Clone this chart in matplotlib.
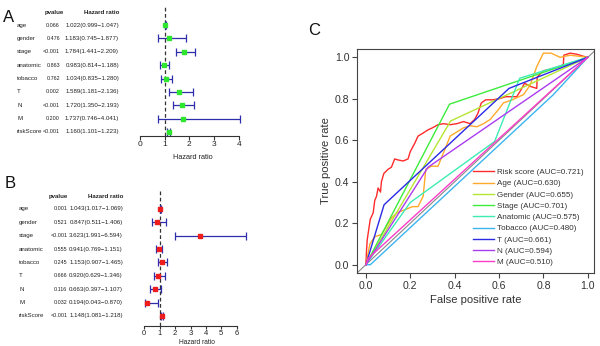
import matplotlib
matplotlib.use("Agg")
import matplotlib.pyplot as plt

plt.rcParams['font.family'] = ['Liberation Sans', 'DejaVu Sans']

# ---------------- data ----------------
variables = ["age", "gender", "stage", "anatomic", "tobacco", "T", "N", "M", "riskScore"]

pA = ["0.066", "0.476", "<0.001", "0.863", "0.762", "0.002", "<0.001", "0.200", "<0.001"]
hrA = [1.022, 1.183, 1.784, 0.983, 1.034, 1.589, 1.720, 1.737, 1.160]
loA = [0.999, 0.745, 1.441, 0.814, 0.835, 1.181, 1.350, 0.746, 1.101]
hiA = [1.047, 1.877, 2.209, 1.188, 1.280, 2.136, 2.193, 4.041, 1.223]

pB = ["0.001", "0.521", "<0.001", "0.555", "0.245", "0.666", "0.116", "0.032", "<0.001"]
hrB = [1.043, 0.847, 3.623, 0.941, 1.153, 0.920, 0.663, 0.194, 1.148]
loB = [1.017, 0.511, 1.991, 0.769, 0.907, 0.629, 0.397, 0.043, 1.081]
hiB = [1.069, 1.406, 6.594, 1.151, 1.465, 1.346, 1.107, 0.870, 1.218]

ticksA = [0, 1, 2, 3, 4]
ticksB = [0, 1, 2, 3, 4, 5, 6]

roc_labels = ["Risk score (AUC=0.721)", "Age (AUC=0.630)", "Gender (AUC=0.655)",
              "Stage (AUC=0.701)", "Anatomic (AUC=0.575)", "Tobacco (AUC=0.480)",
              "T (AUC=0.661)", "N (AUC=0.594)", "M (AUC=0.510)"]
roc_colors = ["#ff2a2a", "#ffaa2a", "#b4e632", "#3cec3c", "#3cecb4",
              "#3cb4f0", "#2a2ae6", "#aa3cf0", "#ff3cc8"]

risk_fpr = [0, 0.003, 0.006, 0.015, 0.02, 0.033, 0.04, 0.048, 0.055, 0.066, 0.07, 0.081,
            0.1, 0.115, 0.13, 0.145, 0.168, 0.19, 0.2, 0.22, 0.235, 0.258, 0.28, 0.30,
            0.325, 0.35, 0.38, 0.41, 0.44, 0.47, 0.49, 0.505, 0.52, 0.54, 0.57, 0.60,
            0.63, 0.68, 0.70, 0.715, 0.74, 0.77, 0.772, 0.80, 0.84, 0.87, 0.89, 0.892,
            0.92, 0.95, 0.98, 1.0]
risk_tpr = [0, 0.07, 0.12, 0.185, 0.22, 0.25, 0.31, 0.33, 0.37, 0.35, 0.40, 0.44,
            0.46, 0.47, 0.51, 0.505, 0.50, 0.51, 0.545, 0.585, 0.62, 0.635, 0.65, 0.66,
            0.675, 0.68, 0.675, 0.68, 0.69, 0.68, 0.70, 0.73, 0.78, 0.795, 0.795, 0.80,
            0.81, 0.81, 0.845, 0.875, 0.86, 0.85, 0.905, 0.935, 0.945, 0.955, 0.965, 1.01,
            1.02, 1.015, 1.005, 1.0]

age_fpr = [0, 0.018, 0.04, 0.07, 0.093, 0.115, 0.14, 0.175, 0.21, 0.235, 0.258, 0.27,
           0.295, 0.325, 0.35, 0.38, 0.41, 0.44, 0.47, 0.50, 0.53, 0.56, 0.595, 0.62,
           0.66, 0.69, 0.71, 0.74, 0.77, 0.80, 0.835, 0.875, 0.92, 0.96, 1.0]
age_tpr = [0, 0.10, 0.135, 0.145, 0.185, 0.225, 0.25, 0.265, 0.28, 0.28, 0.33, 0.46,
           0.475, 0.475, 0.54, 0.62, 0.64, 0.66, 0.67, 0.665, 0.68, 0.70, 0.745, 0.78,
           0.795, 0.81, 0.82, 0.865, 0.955, 1.02, 1.02, 1.0, 1.01, 1.005, 1.0]

gender_fpr = [0, 0.382, 1.0]
gender_tpr = [0, 0.693, 1.0]
stage_fpr = [0, 0.377, 1.0]
stage_tpr = [0, 0.774, 1.0]
anat_fpr = [0, 0.2, 0.58, 0.693, 1.0]
anat_tpr = [0, 0.3, 0.594, 0.899, 1.0]
tob_fpr = [0, 0.02, 0.845, 1.0]
tob_tpr = [0, 0.0, 0.82, 1.0]
t_fpr = [0, 0.082, 0.645, 1.0]
t_tpr = [0, 0.289, 0.85, 1.0]
n_fpr = [0, 0.28, 1.0]
n_tpr = [0, 0.47, 1.0]
m_fpr = [0, 0.01, 1.0]
m_tpr = [0, 0.03, 1.0]

roc_fpr = [risk_fpr, age_fpr, gender_fpr, stage_fpr, anat_fpr, tob_fpr, t_fpr, n_fpr, m_fpr]
roc_tpr = [risk_tpr, age_tpr, gender_tpr, stage_tpr, anat_tpr, tob_tpr, t_tpr, n_tpr, m_tpr]

# ---------------- figure ----------------
W, H = 600, 346
fig = plt.figure(figsize=(6.0, 3.46), dpi=100)


def fx(px):
    return px / W


def fy(py):
    return 1 - py / H


def forest(letter, letter_xy, ax_px, xlim, ylim, ticks, hr, lo, hi, pv, mcolor,
           label_x, p_right, hr_right, phead_right, hhead_right, xlabel_y, xlabel_size,
           tick_size, tick_len):
    l, t, r, b = ax_px
    ax = fig.add_axes([fx(l), fy(b), fx(r - l), (b - t) / H])
    ax.set_xlim(*xlim)
    ax.set_ylim(*ylim)
    for s in ["top", "right", "left"]:
        ax.spines[s].set_visible(False)
    ax.spines["bottom"].set_bounds(ticks[0], ticks[-1])
    ax.spines["bottom"].set_linewidth(0.8)
    ax.spines["bottom"].set_color("#333333")
    ax.set_yticks([])
    ax.set_xticks(ticks)
    ax.tick_params(axis="x", labelsize=tick_size, length=tick_len, width=0.8, pad=0.8,
                   colors="#333333", labelcolor="#222222")
    ax.axvline(1, color="#333333", lw=0.9, ls=(0, (3, 2)), zorder=1)
    ys = list(range(len(variables)))
    ax.errorbar(hr, ys, xerr=[[h - a for h, a in zip(hr, lo)], [c - h for h, c in zip(hr, hi)]],
                fmt="none", ecolor="#2e2eaa", elinewidth=0.9, capsize=2.6, capthick=0.9, zorder=2)
    ax.plot(hr, ys, "s", color=mcolor, ms=3.2, zorder=3, mec=mcolor)
    trans = matplotlib.transforms.blended_transform_factory(fig.transFigure, ax.transData)
    for i, name in enumerate(variables):
        ax.text(fx(label_x), i, name, transform=trans, ha="left", va="center",
                fontsize=4.4, color="#222222", clip_on=False)
        ax.text(fx(p_right), i, pv[i], transform=trans, ha="right", va="center",
                fontsize=3.9, color="#222222", clip_on=False)
        ax.text(fx(hr_right), i, f"{hr[i]:.3f}({lo[i]:.3f}\u2212{hi[i]:.3f})", transform=trans,
                ha="right", va="center", fontsize=4.4, color="#222222", clip_on=False)
    ax.text(fx(phead_right), -0.95, "pvalue", transform=trans, ha="right", va="center",
            fontsize=4.4, fontweight="bold", color="#222222", clip_on=False)
    ax.text(fx(hhead_right), -0.95, "Hazard ratio", transform=trans, ha="right", va="center",
            fontsize=4.4, fontweight="bold", color="#222222", clip_on=False)
    fig.text(fx((ax_px[0] + ax_px[2]) / 2 + 3), fy(xlabel_y), "Hazard ratio", ha="center",
             va="center", fontsize=xlabel_size, color="#222222")
    fig.text(fx(letter_xy[0]), fy(letter_xy[1]), letter, ha="left", va="baseline",
             fontsize=12, color="#111111")
    return ax


# Panel A: x 0 -> 140px, 4 -> 238.7px ; rows at 25 + 13.375 i
ppuA = (238.7 - 140) / 4
forest("A", (3, 22), (140 - 0.3 * ppuA, 5, 140 + 4.3 * ppuA, 136), (-0.3, 4.3), (8.3, -1.5),
       ticksA, hrA, loA, hiA, pA, "#2ee62e", 17, 60, 119, 64, 119, 158, 5.3, 6, 2.8)

# Panel B: x 0 -> 144.3px, 6 -> 236.7px ; rows at 209 + 13.375 i
ppuB = (236.7 - 144.3) / 6
forest("B", (5, 188), (144.3 - 0.3 * ppuB, 190, 144.3 + 6.7 * ppuB, 326), (-0.3, 6.7), (8.75, -1.42),
       ticksB, hrB, loB, hiB, pB, "#ee1c1c", 19, 67.5, 123, 68, 123, 342.3, 4.8, 5.5, 2.2)

# Panel C: ROC
axc = fig.add_axes([fx(357), fy(273), fx(594 - 357), (273 - 49) / H])
axc.set_xlim(-0.04, 1.028)
axc.set_ylim(-0.04, 1.04)
axc.axline((0, 0), slope=1, color="#888888", lw=0.8, zorder=1)
for fp, tp, c, lab in zip(roc_fpr, roc_tpr, roc_colors, roc_labels):
    axc.plot(fp, tp, color=c, lw=1.0, label=lab, zorder=2)
ticksC = [0.0, 0.2, 0.4, 0.6, 0.8, 1.0]
axc.set_xticks(ticksC)
axc.set_yticks(ticksC)
axc.set_xticklabels([f"{v:.1f}" for v in ticksC])
axc.set_yticklabels([f"{v:.1f}" for v in ticksC])
axc.tick_params(labelsize=7.6, length=3.5, width=0.8, pad=2, colors="#444444",
                labelcolor="#333333")
for s in axc.spines.values():
    s.set_linewidth(0.8)
    s.set_color("#444444")
axc.set_xlabel("False positive rate", fontsize=8.1, color="#333333", labelpad=3)
axc.set_ylabel("True positive rate", fontsize=8.1, color="#333333", labelpad=3)
leg = axc.legend(loc="upper left", bbox_to_anchor=(fx(473), fy(168.5)), bbox_transform=fig.transFigure,
                 frameon=False, fontsize=5.8, handlelength=2.6, handletextpad=0.35,
                 labelspacing=0.45, borderpad=0, borderaxespad=0)
for txt in leg.get_texts():
    txt.set_color("#333333")
fig.text(fx(308), fy(35), "C", ha="left", va="baseline", fontsize=12, color="#111111")

fig.savefig("out.png", dpi=100)
